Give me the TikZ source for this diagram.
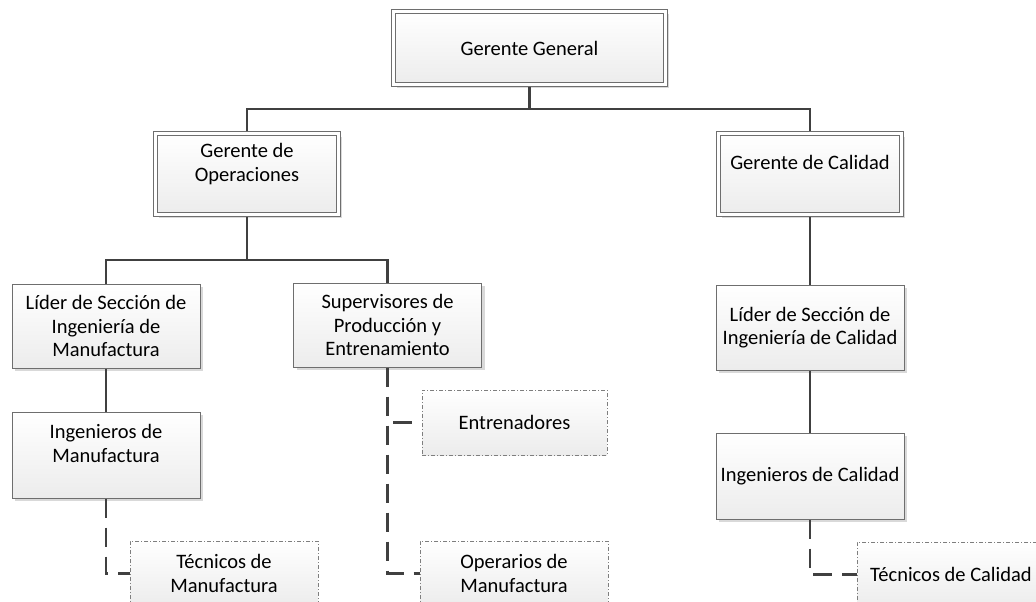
\documentclass[tikz,border=0pt]{standalone}
\usepackage{fontspec}
\setmainfont{Carlito}
\usetikzlibrary{shadows}
\definecolor{linegray}{HTML}{404040}
\definecolor{boxgray}{HTML}{6E6E6E}
\definecolor{auxgray}{HTML}{7E7E7E}
\definecolor{shadowgray}{HTML}{D9D9D9}
\definecolor{fillbot}{HTML}{ECECEC}
\begin{document}
\begin{tikzpicture}[x=1pt,y=-1pt,
  font=\fontsize{20.5}{23.5}\selectfont,
  box/.style={rectangle, draw=boxgray, line width=1pt, top color=white,
    bottom color=fillbot, align=center, inner sep=0pt, outer sep=0.5pt,
    minimum width=188pt,
    drop shadow={shadow xshift=3pt, shadow yshift=-3pt, fill=shadowgray, opacity=1}},
  mgr/.style={box, double=white, double distance=3pt, outer sep=2.5pt},
  aux/.style={rectangle, draw=auxgray, line width=0.8pt,
    dash pattern=on 4pt off 2pt on 1pt off 2pt, top color=white,
    bottom color=fillbot, align=center, inner sep=0pt, outer sep=0.4pt,
    minimum width=188pt, minimum height=65pt},
  conn/.style={draw=linegray, line width=2.2pt},
  dconn/.style={conn, dash pattern=on 19pt off 10pt}]
\useasboundingbox (0,0) rectangle (1036,602);
\clip (0,0) rectangle (1036,602);

% management level
\node[mgr, minimum width=272pt, minimum height=73pt] (gg) at (529.5,48) {Gerente General};
\node[mgr, minimum width=183pt, minimum height=81pt] (go) at (247,174) {Gerente de\\Operaciones\\\mbox{}};
\node[mgr, minimum width=183pt, minimum height=81pt] (gc) at (810,174) {Gerente de Calidad\\\mbox{}};

% section leads and engineers
\node[box, minimum height=84pt] (lm) at (106,326) {Líder de Sección de\\Ingeniería de\\Manufactura};
\node[box, minimum height=84pt] (sp) at (387.5,325) {Supervisores de\\Producción y\\Entrenamiento};
\node[box, minimum height=85pt] (lc) at (810,327.5) {Líder de Sección de\\Ingeniería de Calidad};
\node[box, minimum height=86pt] (im) at (106,455) {Ingenieros de\\Manufactura\\\mbox{}};
\node[box, minimum height=86pt] (ic) at (810,476) {Ingenieros de Calidad};

% staff positions
\node[aux, minimum width=185pt] (en) at (514.5,422.5) {Entrenadores};
\node[aux] (tm) at (224,573.5) {Técnicos de\\Manufactura};
\node[aux] (op) at (514,573.5) {Operarios de\\Manufactura};
\node[aux] (tc) at (951,574.5) {Técnicos de Calidad};

% bus levels
\coordinate (bus1) at (0,109);
\coordinate (bus2) at (0,260);

% reporting lines
\draw[conn] (gg.south) -- (gg.south |- bus1);
\draw[conn] (go.north) -- (go.north |- bus1) -- (gc.north |- bus1) -- (gc.north);
\draw[conn] (go.south) -- (go.south |- bus2);
\draw[conn] (lm.north) -- (lm.north |- bus2) -- (sp.north |- bus2) -- (sp.north);
\draw[conn] (gc.south) -- (lc.north);
\draw[conn] (lc.south) -- (ic.north);
\draw[conn] (lm.south) -- (im.north);

% dashed staff lines
\draw[dconn] (sp.south) -- (sp.south |- op.west) -- (op.west);
\draw[dconn, dash phase=19pt] (en.west) -- (en.west -| sp.south);
\draw[dconn] (im.south) -- (im.south |- tm.west) -- (tm.west);
\draw[dconn] (ic.south) -- (ic.south |- tc.west) -- (tc.west);
\end{tikzpicture}
\end{document}
